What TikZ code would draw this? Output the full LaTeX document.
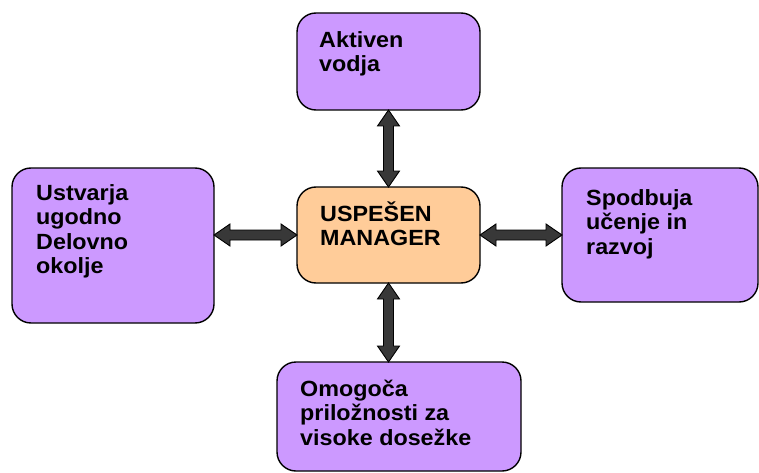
\documentclass[tikz,border=0pt]{standalone}
\usepackage{fontspec}
\setmainfont{Liberation Sans}[FakeStretch=1.06]
\usetikzlibrary{calc}

\definecolor{lilac}{HTML}{CC99FF}
\definecolor{peach}{HTML}{FFCC99}
\definecolor{arrowgray}{HTML}{383838}

% fixed first-line height, so the top of every text block sits 22pt above its first baseline
\newcommand{\firstline}{\rule{0pt}{22pt}}

\tikzset{
  box/.style={draw=black, line width=1.4pt, rounded corners=19pt,
    inner sep=0pt, outer sep=0pt, fill=lilac},
  label/.style={anchor=north west, inner sep=0pt, align=left,
    font=\fontsize{22pt}{24.5pt}\selectfont\bfseries},
  dblarrow/.style={draw=black, line width=0.9pt, fill=arrowgray, line join=miter},
  % downward double arrow between two anchors
  vdbl/.style={to path={
    (\tikztostart) -- ++(11,16) -- ++(-6,0)
    -- ($(\tikztotarget)+(5,-16)$) -- ++(6,0) -- (\tikztotarget)
    -- ++(-11,-16) -- ++(6,0)
    -- ($(\tikztostart)+(-5,16)$) -- ++(-6,0) -- cycle}},
  % left-to-right double arrow between two anchors
  hdbl/.style={to path={
    (\tikztostart) -- ++(16,-11) -- ++(0,6)
    -- ($(\tikztotarget)+(-16,-5)$) -- ++(0,-6) -- (\tikztotarget)
    -- ++(-16,11) -- ++(0,-6)
    -- ($(\tikztostart)+(16,5)$) -- ++(0,6) -- cycle}}
}

\begin{document}
\begin{tikzpicture}[x=1pt, y=-1pt]
  \useasboundingbox (0,0) rectangle (759,473);

  % boxes
  \node[box, minimum width=183pt, minimum height=97pt] (top) at (388.5,61.5) {};
  \node[box, fill=peach, minimum width=183pt, minimum height=96pt] (ctr) at (388.5,235) {};
  \node[box, minimum width=202pt, minimum height=155pt] (lft) at (113,245.5) {};
  \node[box, minimum width=196pt, minimum height=134pt] (rgt) at (660,235) {};
  \node[box, minimum width=244pt, minimum height=109pt] (bot) at (399,416.5) {};

  % texts (offset = first baseline minus 22pt)
  \node[label] (ttop) at ($(top.north west)+(22,12)$) {\firstline Aktiven\\vodja};
  \node[label] (tctr) at ($(ctr.north west)+(23,12)$) {\firstline USPEŠEN\\MANAGER};
  \node[label] (tlft) at ($(lft.north west)+(24,10)$) {\firstline Ustvarja\\ugodno\\Delovno\\okolje};
  \node[label] (trgt) at ($(rgt.north west)+(24,15)$) {\firstline Spodbuja\\učenje in\\razvoj};
  \node[label] (tbot) at ($(bot.north west)+(23,12)$) {\firstline Omogoča\\priložnosti za\\visoke dosežke};

  % connectors
  \draw[dblarrow] (top.south) to[vdbl] (ctr.north);
  \draw[dblarrow] (ctr.south) to[vdbl] (ctr.south |- bot.north);
  \draw[dblarrow] (lft.east |- ctr.west) to[hdbl] (ctr.west);
  \draw[dblarrow] (ctr.east) to[hdbl] (rgt.west);
\end{tikzpicture}
\end{document}
